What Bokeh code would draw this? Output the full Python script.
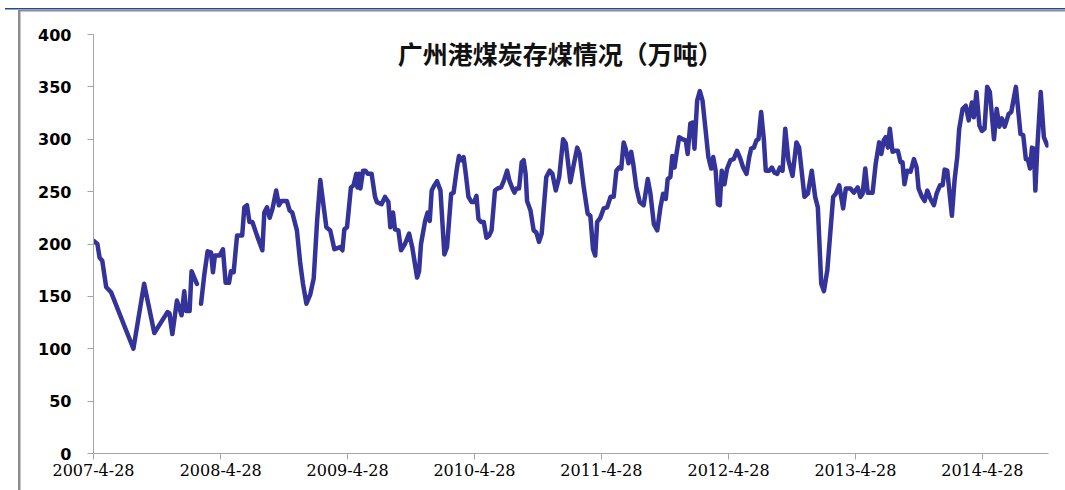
import numpy as np
import pandas as pd
from bokeh.plotting import figure
from bokeh.models import Range1d, FixedTicker, Label, InlineStyleSheet
from bokeh.embed import file_html
from bokeh.resources import INLINE

nan = float("nan")

title_text = "广州港煤炭存煤情况（万吨）"
tick_labels = ["2007-4-28", "2008-4-28", "2009-4-28", "2010-4-28",
               "2011-4-28", "2012-4-28", "2013-4-28", "2014-4-28"]
y_ticks = [0, 50, 100, 150, 200, 250, 300, 350, 400]

# weeks since 2007-4-28
week = [0, 1.6, 2.5, 3.6, 5.2, 7.2, 16.4, 20.8, 25.0, 30.4, 31.2, 32.4, 34.3, 36.2, 37.3, 38.1, 39.5, 40.3, 42.5,
        43.4,
        44.2, 45.5, 46.9, 48.3, 49.1, 49.9, 51.8, 53.2, 54.3, 55.7, 56.5, 57.6, 59.0, 61.1, 62.0, 63.1, 64.1, 65.3,
        67.2, 69.4, 70.2, 71.3, 72.4, 73.5, 75.1, 76.2, 77.3, 79.5, 80.6, 81.7, 83.6, 85.0, 86.1, 87.5, 89.1, 90.5,
        91.9, 93.2, 94.3, 95.7, 97.3, 99.0, 101.4, 102.3, 103.1, 104.2, 105.8, 106.9, 108.0, 108.5, 109.1, 109.7,
        110.8, 111.8, 112.7, 114.3, 115.7, 116.5, 118.4, 119.8, 121.2, 122.0, 123.1, 123.9, 125.3, 126.4, 128.0,
        129.7, 131.0, 133.0, 133.8, 134.6, 136.3, 137.3, 138.2, 139.0, 140.1, 141.2, 142.6, 144.2, 145.3, 147.0,
        148.0, 149.4, 150.2, 151.1, 152.1, 153.0, 154.1, 155.4, 156.5, 157.4, 158.2, 159.3, 160.4, 161.5, 162.6,
        163.6, 165.0, 166.1, 167.5, 168.6, 170.0, 171.0, 172.2, 173.0, 173.8, 174.9, 176.0, 176.8, 177.6, 178.2,
        179.6, 180.9, 182.0, 183.1, 184.2, 186.1, 187.5, 188.6, 190.0, 191.4, 193.0, 194.1, 196.0, 197.4, 198.8,
        199.8, 201.5, 203.1, 204.2, 205.3, 206.2, 207.0, 208.3, 209.7, 211.1, 212.5, 213.8, 214.9, 216.0, 216.9,
        217.9, 218.7, 219.9, 221.0, 221.8, 223.1, 224.5, 226.1, 227.8, 228.9, 230.3, 231.7, 233.0, 234.1, 235.2,
        236.0, 237.1, 237.9, 238.8, 239.6, 240.7, 242.1, 243.4, 244.2, 245.3, 246.2, 247.0, 248.1, 249.2, 250.3,
        251.6, 252.7, 253.9, 254.7, 255.7, 256.6, 257.4, 258.2, 259.3, 260.4, 261.8, 263.1, 264.5, 265.9, 267.0,
        268.4, 269.5, 270.3, 271.4, 272.5, 273.3, 274.4, 275.5, 276.3, 277.7, 278.8, 279.9, 281.0, 282.1, 283.2,
        284.3, 285.6, 287.3, 288.9, 290.0, 292.2, 293.6, 295.2, 296.6, 297.7, 299.1, 300.2, 301.6, 304.0, 305.1,
        306.5, 308.1, 309.2, 311.1, 312.5, 314.1, 315.2, 316.1, 317.2, 318.2, 320.2, 321.5, 322.9, 323.8, 324.8,
        325.6, 326.5, 327.3, 328.4, 329.5, 330.6, 331.7, 332.5, 333.3, 334.4, 335.8, 337.2, 338.3, 339.1, 340.5,
        341.6, 342.7, 344.0, 345.4, 346.5, 347.9, 349.0, 349.8, 350.9, 352.0, 352.8, 353.9, 355.0, 355.8, 357.2,
        358.5, 359.7, 361.0, 361.8, 362.9, 364.1, 365.1, 366.2, 367.3, 368.4, 370.1, 371.2, 372.3, 373.3, 374.5,
        376.1, 377.2, 379.1, 381.0, 382.1, 383.2, 384.0, 384.9, 385.7, 386.5, 387.1, 387.9, 389.3, 390.6, 392.0]

# coal stock, 10k tonnes (nan = missing week)
stock = [203, 200, 187, 184, 159, 154, 100, 162, 115, 135, 134, 114, 146, 132, 155, 136, 136, 174, 162,
         nan,
         143, 170, 193, 192, 173, 189, 189, 195, 163, 163, 174, 173, 208, 208, 235, 237, 221, 221,
         208, 194, 230, 235, 225, 233, 251, 237, 241, 241, 232, 230, 213, 181, 162, 143, 152, 167,
         222, 261, 241, 216, 213, 195, 197, 194, 214, 216, 254, 256, 267, 254, 267, 253,
         270, 270, 267, 267, 245, 240, 238, 245, 240, 216, 230, 214, 213, 194, 200,
         210, 197, 168, 174, 200, 222, 230, 222, 251, 256, 260, 251, 190, 197, 248,
         249, 273, 284, 280, 283, 267, 245, 240, 240, 246, 224, 221, 221, 206, 208,
         213, 251, 253, 254, 260, 270, 260, 253, 249, 253, 253, 278, 280, 267, 241,
         232, 213, 211, 202, 210, 264, 270, 267, 251, 264, 300, 296, 259, 276, 292,
         286, 254, 229, 227, 195, 189, 221, 225, 234, 235, 245, 245, 270, 273, 272,
         297, 291, 277, 288, 277, 254, 240, 237, 262, 248, 219, 213, 235, 248, 243,
         262, 264, 284, 273, 286, 302, 300, 299, 286, 315, 316, 291, 337, 346, 337,
         308, 283, 272, 283, 270, 238, 237, 270, 257, 272, 280, 281, 289, 281, 273,
         267, 283, 291, 292, 299, 300, 326, 300, 270, 270, 273, 268, 267, 273, 270,
         310, 280, 265, 297, 292, 245, 248, 270, 245, 235, 162, 155, 175, 245, 248,
         256, 234, 253, 253, 249, 254, 245, 248, 272, 249, 249, 277, 297, 286, 299,
         302, 292, 310, 288, 289, 289, 278, 278, 257, 270, 269, 281, 273, 253, 245,
         241, 251, 243, 237, 248, 256, 256, 271, 270, 245, 227, 261, 283, 310, 329,
         332, 318, 335, 321, 345, 313, 308, 310, 350, 345, 300, 329, 312, 320, 312,
         324, 326, 350, 305, 304, 281, 281, 272, 292, 291, 251, 292, 345, 302, 294]

start = pd.Timestamp("2007-04-28")
tick_pos = [(pd.Timestamp(t) - start).days / 7 for t in tick_labels]

W, H = 1065, 490
p = figure(width=W, height=H, output_backend="svg", toolbar_location=None,
           x_range=Range1d(0, 392.5), y_range=Range1d(0, 400),
           min_border_left=93, min_border_right=17, min_border_top=34, min_border_bottom=37)
p.background_fill_color = "white"
p.border_fill_color = "white"
p.outline_line_color = None
p.grid.visible = False

p.line(np.array(week, dtype=float), np.array(stock, dtype=float),
       line_color="#343399", line_width=4.5, line_join="round", line_cap="round")

axis_gray = "#A6A6A6"
xa = p.xaxis[0]
xa.ticker = FixedTicker(ticks=tick_pos)
xa.major_label_overrides = {tp: lab for tp, lab in zip(tick_pos, tick_labels)}
xa.axis_line_color = axis_gray
xa.major_tick_line_color = axis_gray
xa.major_tick_in = 0
xa.major_tick_out = 6
xa.minor_tick_line_color = None
xa.major_label_standoff = 4
xa.major_label_text_font = "DejaVu Serif"
xa.major_label_text_font_size = "16px"
xa.major_label_text_color = "black"

ya = p.yaxis[0]
ya.ticker = FixedTicker(ticks=y_ticks)
ya.axis_line_color = axis_gray
ya.major_tick_line_color = axis_gray
ya.major_tick_in = 0
ya.major_tick_out = 6
ya.minor_tick_line_color = None
ya.major_label_standoff = 16
ya.major_label_text_font = "DejaVu Sans"
ya.major_label_text_font_style = "bold"
ya.major_label_text_font_size = "16px"
ya.major_label_text_color = "black"

p.add_layout(Label(x=191.8, y=382.5, text=title_text, text_align="center", text_baseline="middle",
                   text_font="Noto Sans CJK SC", text_font_style="bold", text_font_size="25px",
                   text_color="#111111"))

# chart frame lines drawn as an overlay on the figure element
frame_css = """
:host { position: relative; }
:host::after {
  content: "";
  position: absolute;
  left: 0; top: 0; width: 100%; height: 100%;
  pointer-events: none;
  background:
    linear-gradient(#1F4A9C, #1F4A9C) 5px 8px / 100% 1.5px no-repeat,
    linear-gradient(#8C8C8C, #8C8C8C) 19px 9.5px / 100% 1.5px no-repeat,
    linear-gradient(#8C8C8C, #8C8C8C) 18px 9.5px / 2.5px 100% no-repeat;
}
"""
p.stylesheets = [InlineStyleSheet(css=frame_css)]

open("out.html", "w").write(file_html(p, INLINE))
